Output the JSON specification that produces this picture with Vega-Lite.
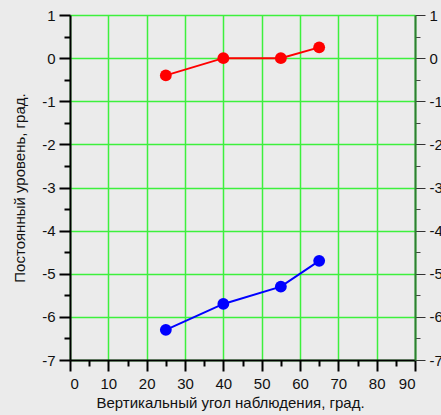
{
  "$schema": "https://vega.github.io/schema/vega-lite/v6.json",
  "width": 345,
  "height": 345,
  "autosize": {"type": "none"},
  "padding": {"left": 70, "top": 15, "right": 26, "bottom": 55},
  "background": "#ebebeb",
  "config": {
    "view": {"stroke": null},
    "font": "Liberation Sans",
    "axis": {"labelFont": "Liberation Sans", "titleFont": "Liberation Sans", "labelColor": "#111", "titleColor": "#111", "titleFontWeight": "normal", "labelFontSize": 15, "titleFontSize": 15}
  },
  "data": {"values": [
    {"angle": 25, "level": -0.4, "series": "A"},
    {"angle": 40, "level": 0.0, "series": "A"},
    {"angle": 55, "level": 0.0, "series": "A"},
    {"angle": 65, "level": 0.25, "series": "A"},
    {"angle": 25, "level": -6.3, "series": "B"},
    {"angle": 40, "level": -5.7, "series": "B"},
    {"angle": 55, "level": -5.3, "series": "B"},
    {"angle": 65, "level": -4.7, "series": "B"}
  ]},
  "resolve": {"axis": {"x": "independent", "y": "independent"}},
  "layer": [
    {
      "mark": {"type": "point", "opacity": 0},
      "encoding": {
        "x": {"field": "angle", "type": "quantitative", "scale": {"domain": [0, 90], "nice": false},
          "axis": {"orient": "bottom", "values": [5,15,25,35,45,55,65,75,85], "labels": false, "grid": false, "domain": false, "ticks": true, "tickSize": 6, "tickColor": "#000000", "tickWidth": 2, "title": null}},
        "y": {"field": "level", "type": "quantitative", "scale": {"domain": [-7, 1], "nice": false},
          "axis": {"orient": "left", "values": [-6.5,-5.5,-4.5,-3.5,-2.5,-1.5,-0.5,0.5], "labels": false, "grid": false, "domain": false, "ticks": true, "tickSize": 6, "tickColor": "#000000", "tickWidth": 2, "title": null}}
      }
    },
    {
      "mark": {"type": "point", "opacity": 0},
      "encoding": {
        "y": {"field": "level", "type": "quantitative",
          "axis": {"orient": "right", "values": [-6.5,-5.5,-4.5,-3.5,-2.5,-1.5,-0.5,0.5], "labels": false, "grid": false, "domain": false, "ticks": true, "tickSize": 5, "tickColor": "#444444", "tickWidth": 1, "title": null}}
      }
    },
    {
      "mark": {"type": "point", "opacity": 0},
      "encoding": {
        "y": {"field": "level", "type": "quantitative",
          "axis": {"orient": "right", "values": [-7,-6,-5,-4,-3,-2,-1,0,1], "labelExpr": "toString(datum.value)", "grid": false, "domain": true, "domainColor": "#2e7d32", "domainWidth": 2, "ticks": true, "tickSize": 10, "tickColor": "#333333", "tickWidth": 1, "labelPadding": 4, "title": null}}
      }
    },
    {
      "mark": {"type": "line", "strokeWidth": 2, "point": {"filled": true, "size": 140, "opacity": 1}},
      "encoding": {
        "x": {"field": "angle", "type": "quantitative",
          "axis": {"orient": "bottom", "values": [0,10,20,30,40,50,60,70,80,90], "grid": true, "gridColor": "#3cf03c", "gridWidth": 1.5, "gridOpacity": 1, "domainColor": "#000000", "domainWidth": 2, "ticks": true, "tickSize": 11, "tickColor": "#000000", "tickWidth": 2, "labelPadding": 5, "title": "Вертикальный угол наблюдения, град.", "titlePadding": 4, "titleX": 160}},
        "y": {"field": "level", "type": "quantitative",
          "axis": {"orient": "left", "values": [-7,-6,-5,-4,-3,-2,-1,0,1], "labelExpr": "toString(datum.value)", "grid": true, "gridColor": "#3cf03c", "gridWidth": 1.5, "gridOpacity": 1, "domainColor": "#000000", "domainWidth": 2, "ticks": true, "tickSize": 11, "tickColor": "#000000", "tickWidth": 2, "labelPadding": 4, "title": "Постоянный уровень, град.", "titlePadding": 14}},
        "color": {"field": "series", "type": "nominal", "scale": {"domain": ["A", "B"], "range": ["#ff0000", "#0000ff"]}, "legend": null}
      }
    }
  ]
}
